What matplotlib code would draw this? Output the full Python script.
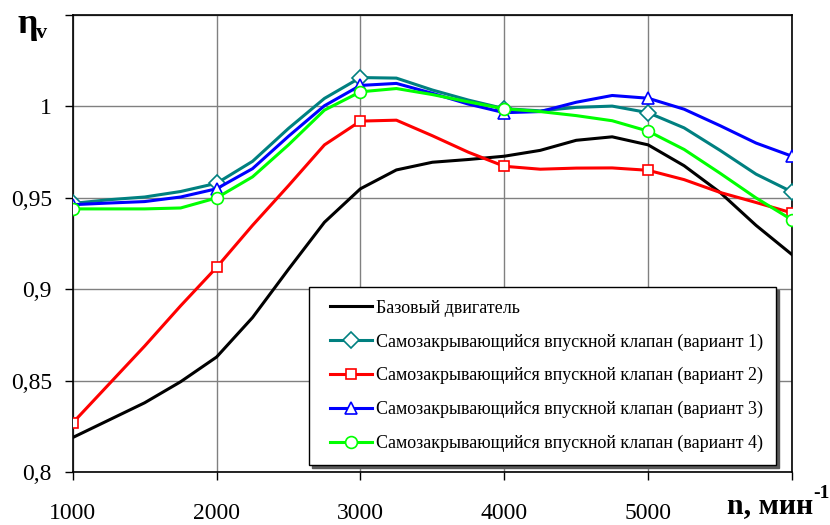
import matplotlib
matplotlib.use('Agg')
import matplotlib.pyplot as plt
from matplotlib.legend_handler import HandlerLine2D

plt.rcParams['font.family'] = ['Liberation Serif', 'DejaVu Serif']

rpm = [1000, 1250, 1500, 1750, 2000, 2250, 2500, 2750, 3000, 3250, 3500,
       3750, 4000, 4250, 4500, 4750, 5000, 5250, 5500, 5750, 6000]

base = [0.819, 0.8285, 0.838, 0.8495, 0.863, 0.8846, 0.911, 0.9367, 0.955,
        0.9653, 0.9695, 0.971, 0.9728, 0.976, 0.9815, 0.9834, 0.979, 0.9676,
        0.953, 0.935, 0.919]
var1 = [0.947, 0.949, 0.9505, 0.9535, 0.958, 0.970, 0.988, 1.0044, 1.0158,
        1.0155, 1.009, 1.0035, 0.9988, 0.9976, 0.9995, 1.0002, 0.9966, 0.9883,
        0.976, 0.963, 0.9533]
var2 = [0.827, 0.848, 0.869, 0.891, 0.912, 0.935, 0.9567, 0.979, 0.992,
        0.9925, 0.984, 0.975, 0.9673, 0.9657, 0.9663, 0.9664, 0.9651, 0.960,
        0.953, 0.9475, 0.9418]
var3 = [0.9463, 0.9472, 0.948, 0.9505, 0.955, 0.966, 0.9837, 1.0004, 1.0115,
        1.0126, 1.0072, 1.0013, 0.9966, 0.9972, 1.0023, 1.006, 1.0045, 0.9985,
        0.9895, 0.980, 0.9728]
var4 = [0.944, 0.944, 0.944, 0.9445, 0.950, 0.9615, 0.979, 0.998, 1.008,
        1.0098, 1.0065, 1.0025, 0.9987, 0.9972, 0.995, 0.9922, 0.9865, 0.9765,
        0.9635, 0.950, 0.938]

labels = ['Базовый двигатель',
          'Самозакрывающийся впускной клапан (вариант 1)',
          'Самозакрывающийся впускной клапан (вариант 2)',
          'Самозакрывающийся впускной клапан (вариант 3)',
          'Самозакрывающийся впускной клапан (вариант 4)']

x_ticks = [1000, 2000, 3000, 4000, 5000, 6000]
x_ticklabels = ['1000', '2000', '3000', '4000', '5000', '']
y_ticks = [0.80, 0.85, 0.90, 0.95, 1.00, 1.05]
y_ticklabels = ['0,8', '0,85', '0,9', '0,95', '1', '']


class ShiftedLineHandler(HandlerLine2D):
    """Legend line handler whose sample starts a bit to the right."""

    def __init__(self, shift, **kw):
        super().__init__(**kw)
        self.shift = shift

    def create_artists(self, legend, orig_handle, xdescent, ydescent,
                       width, height, fontsize, trans):
        s = self.shift * fontsize
        return super().create_artists(legend, orig_handle, xdescent - s,
                                      ydescent, width - s, height,
                                      fontsize, trans)


W, H = 830, 525
fig = plt.figure(figsize=(W / 100, H / 100), dpi=100)
L, R, T, B = 72.7, 792.0, 15.0, 472.3
ax = fig.add_axes([L / W, 1 - B / H, (R - L) / W, (B - T) / H])

lw = 2.2
lines = []
lines += ax.plot(rpm, base, color='black', lw=lw, label=labels[0], zorder=3)
lines += ax.plot(rpm, var1, color='#008080', lw=lw, marker='D', markersize=8.5,
                 markerfacecolor='white', markeredgecolor='#008080',
                 markeredgewidth=1.2, markevery=4, label=labels[1], zorder=3)
lines += ax.plot(rpm, var2, color='#FF0000', lw=lw, marker='s', markersize=7,
                 markerfacecolor='white', markeredgecolor='#FF0000',
                 markeredgewidth=1.2, markevery=4, label=labels[2], zorder=3)
lines += ax.plot(rpm, var3, color='#0000FF', lw=lw, marker='^', markersize=9,
                 markerfacecolor='white', markeredgecolor='#0000FF',
                 markeredgewidth=1.2, markevery=4, label=labels[3], zorder=3)
lines += ax.plot(rpm, var4, color='#00FF00', lw=lw, marker='o', markersize=8.5,
                 markerfacecolor='white', markeredgecolor='#00FF00',
                 markeredgewidth=1.2, markevery=4, label=labels[4], zorder=3)

ax.set_xlim(1000, 6000)
ax.set_ylim(0.80, 1.05)
ax.set_xticks(x_ticks)
ax.set_xticklabels(x_ticklabels)
ax.set_yticks(y_ticks)
ax.set_yticklabels(y_ticklabels)
ax.tick_params(axis='both', direction='out', length=6, width=1, color='black',
               labelsize=17, pad=9)
ax.tick_params(axis='x', pad=16)
ax.grid(True, color='#808080', lw=1, zorder=0)
for s in ax.spines.values():
    s.set_color('black')
    s.set_linewidth(1.2)

handler = ShiftedLineHandler(0.47)
leg = ax.legend(handles=lines, labels=labels, loc='upper left',
                bbox_to_anchor=((309 - L) / (R - L), (B - 287) / (B - T)),
                borderaxespad=0, fontsize=13, frameon=True, fancybox=False,
                edgecolor='black', framealpha=1, handlelength=2.8,
                handletextpad=0.22, labelspacing=0.92, borderpad=0.7,
                handler_map={ln: handler for ln in lines},
                shadow={'color': '0.35', 'alpha': 1, 'ox': 2, 'oy': -2})
leg.get_frame().set_linewidth(1.0)
leg.set_zorder(5)

fig.text(17 / W, 1 - 33 / H, 'η', fontsize=26, fontweight='bold',
         ha='left', va='baseline')
fig.text(36 / W, 1 - 38 / H, 'v', fontsize=16, fontweight='bold',
         ha='left', va='baseline')

fig.text(727 / W, 1 - 513 / H, 'n, мин', fontsize=21.5, fontweight='bold',
         ha='left', va='baseline')
fig.text(813 / W, 1 - 498 / H, '-1', fontsize=14, fontweight='bold',
         ha='left', va='baseline')

fig.savefig('out.png', dpi=100)
